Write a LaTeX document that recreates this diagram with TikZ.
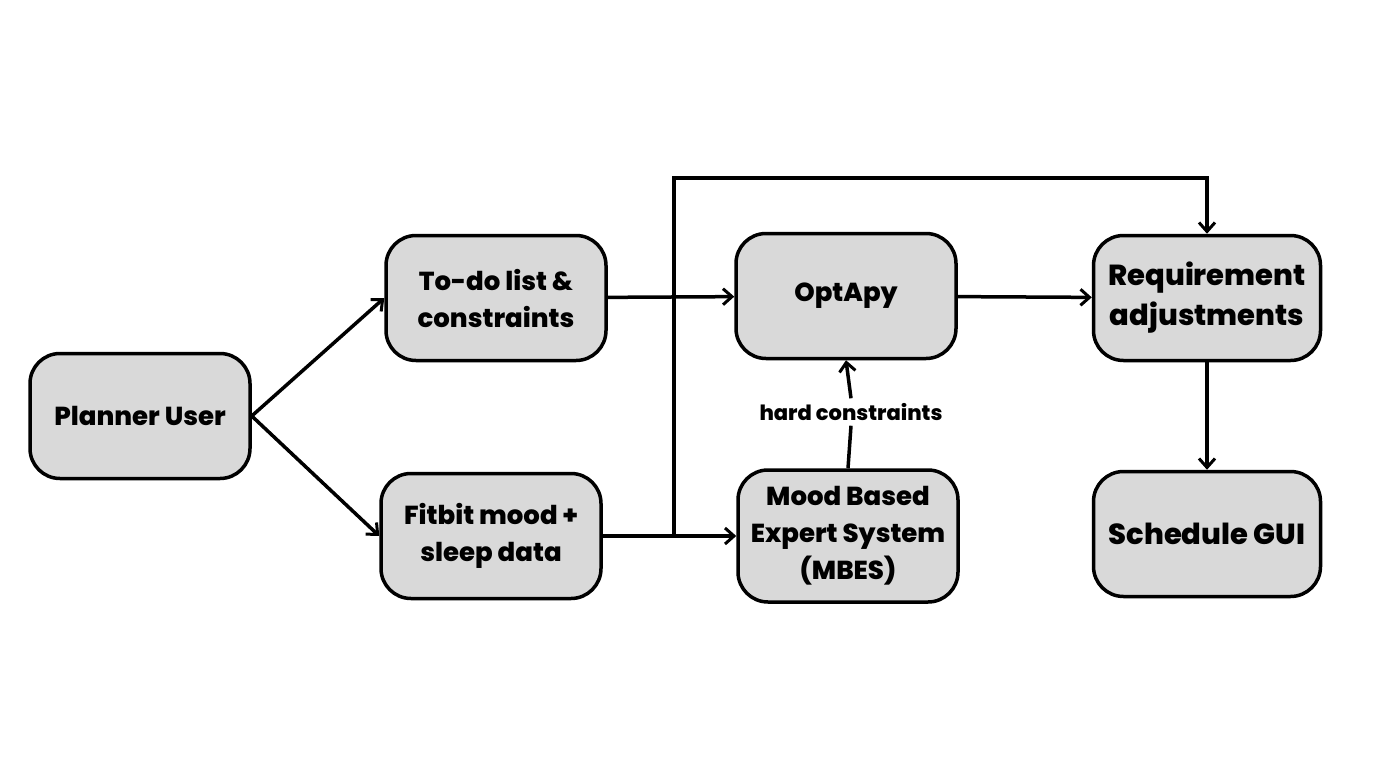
\documentclass[tikz,border=0pt]{standalone}
\usepackage{fontspec}
\setmainfont{Poppins}[BoldFont={Poppins ExtraBold}]
\usetikzlibrary{arrows.meta}
\definecolor{boxgray}{HTML}{D9D9D9}

\begin{document}
\begin{tikzpicture}
[x=1pt,y=-1pt,line width=3.5,
every node/.style={draw,fill=boxgray,rounded corners=30,align=center,
  minimum width=220,minimum height=125,font=\fontsize{26}{37}\selectfont\bfseries},
big/.style={font=\fontsize{29}{40}\selectfont\bfseries,minimum width=227},
tip/.style={-{Straight Barb[length=9pt,width=16pt,line width=3pt]}}]
\useasboundingbox (0,0) rectangle (1400,768);
\node (user) at (140,416) {Planner User};
\node (todo) at (496,298) {To-do list \&\\constraints};
\node (fit) at (491,536) {Fitbit mood +\\sleep data};
\node (opt) at (846,296) {OptApy};
\node[minimum height=132] (mbes) at (848,536) {Mood Based\\Expert System\\(MBES)};
\node[big] (req) at (1207,298) {Requirement\\adjustments};
\node[big] (gui) at (1207,534) {Schedule GUI};
\node[draw=none,fill=none,minimum width=0,minimum height=0,
  font=\fontsize{21}{24}\selectfont\bfseries] (hard) at (851,412) {hard constraints};
\coordinate (split) at (674,536);
\draw[tip] (user.east) -- (todo.west);
\draw[tip] (user.east) -- (fit.west);
\draw[tip] (todo) -- (opt);
\draw[tip] (fit) -- (mbes);
\draw[tip] (opt) -- (req);
\draw[tip] (req) -- (gui);
\draw[tip] (split) -- (674,178) -| (req.north);
\draw (mbes.north) -- (hard.south);
\draw[tip] (hard.north) -- (opt.south);
\end{tikzpicture}
\end{document}
